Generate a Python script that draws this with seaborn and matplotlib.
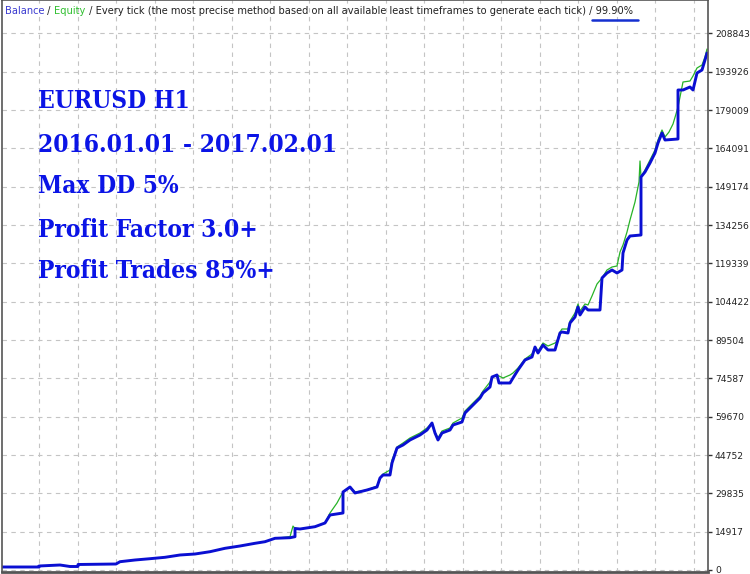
import numpy as np
import pandas as pd
import matplotlib
matplotlib.use("Agg")
import matplotlib.pyplot as plt
from matplotlib.lines import Line2D
import seaborn as sns


##### Data (trade no. / account value)

balance_trade = [0, 37, 37, 58, 68, 76, 76, 114, 118, 133, 148, 163, 178, 193, 208, 223, 238,
                 253, 263, 273, 288, 293, 293, 298, 313, 323, 328, 341, 341, 348, 353, 365,
                 375, 378, 381, 388, 390, 395, 401, 408, 418, 425, 430, 433, 436, 440, 448,
                 451, 460, 463, 471, 478, 481, 488, 490, 495, 497, 508, 511, 516, 523, 530,
                 533, 536, 541, 546, 553, 555, 558, 560, 566, 568, 573, 576, 578, 583, 586,
                 598, 600, 605, 610, 615, 620, 621, 625, 628, 639, 639, 643, 648, 653, 656,
                 660, 663, 676, 676, 681, 688, 691, 695, 700, 703, 705]
balance_value = [1168, 1168, 1557, 1946, 1362, 1362, 2141, 2335, 3230, 3892, 4398, 4943, 5838,
                 6227, 7122, 8446, 9341, 10392, 11014, 12338, 12571, 12960, 16152, 15957,
                 16852, 18292, 21406, 22184, 30358, 32304, 29968, 31136, 32304, 35806, 36974,
                 36974, 41644, 47482, 48650, 50596, 52542, 54488, 57212, 53320, 50596, 53320,
                 54488, 56434, 57602, 61104, 64218, 66942, 68888, 71224, 75116, 75894, 72780,
                 72780, 74726, 77840, 81732, 82900, 86792, 84456, 87570, 85624, 85624, 88348,
                 92240, 92630, 92240, 96132, 98468, 102360, 99246, 102360, 101192, 101192,
                 113646, 115592, 116760, 115592, 116760, 123376, 128436, 129993, 130382,
                 152956, 154902, 158404, 162296, 166188, 170080, 167356, 167745, 186816,
                 186816, 187984, 186816, 193432, 194600, 198492, 201216]

equity_trade = [0, 37, 37, 58, 68, 76, 76, 114, 118, 133, 148, 163, 178, 193, 208, 223, 238,
                253, 263, 273, 288, 291, 293, 298, 313, 323, 328, 335, 341, 348, 353, 365,
                375, 378, 381, 388, 390, 395, 401, 408, 418, 425, 430, 433, 436, 440, 448,
                451, 460, 463, 471, 478, 481, 488, 490, 495, 501, 508, 511, 516, 523, 530,
                533, 536, 541, 546, 553, 555, 558, 560, 566, 568, 573, 576, 578, 583, 586,
                590, 595, 600, 605, 610, 615, 618, 621, 625, 628, 633, 637, 638, 639, 643,
                648, 653, 656, 660, 663, 667, 671, 674, 676, 681, 688, 691, 695, 700, 703, 705]
equity_value = [1168, 1168, 1557, 1946, 1362, 1362, 2141, 2335, 3230, 3892, 4398, 4943, 5838,
                6227, 7122, 8446, 9341, 10392, 11014, 12338, 12960, 17100, 16152, 15957,
                16852, 18292, 22184, 26076, 30358, 32304, 30358, 31136, 32693, 35806, 37363,
                38920, 42811, 47870, 49428, 51374, 53320, 55266, 57212, 53709, 51374, 54098,
                55266, 57212, 59158, 61882, 64996, 67720, 69666, 73170, 75116, 75894, 74726,
                75894, 76672, 78618, 82122, 84068, 86792, 85234, 88348, 87180, 88348, 89126,
                92630, 93797, 93797, 96910, 100024, 103527, 100803, 103527, 103138, 106640,
                111311, 113646, 116760, 117928, 118317, 123766, 126490, 131550, 136220,
                143226, 151010, 159183, 152956, 155680, 159572, 163463, 167356, 171247,
                168524, 170470, 173583, 177476, 180200, 189929, 190318, 192264, 195378,
                196546, 199659, 202772]

ytick_values = [0, 14917, 29835, 44752, 59670, 74587, 89504, 104422, 119339, 134256,
                149174, 164091, 179009, 193926, 208843]
ytick_labels = [str(v) for v in ytick_values]

header_parts = ["Balance", " / ", "Equity",
                " / Every tick (the most precise method based on all available least "
                "timeframes to generate each tick) / 99.90%"]
header_colors = ["#3a3ad0", "#222222", "#2fbf2f", "#222222"]

info_lines = ["EURUSD H1", "2016.01.01 - 2017.02.01", "Max DD 5%",
              "Profit Factor 3.0+", "Profit Trades 85%+"]


##### PLOT

sns.set_style("white")
fig = plt.figure(figsize=(7.5, 5.74), dpi=100)
W, H = 750, 574
ax = fig.add_axes([2 / W, 2.5 / H, 706 / W, 571.5 / H])

bal = pd.DataFrame({"trade": balance_trade, "value": balance_value})
eq = pd.DataFrame({"trade": equity_trade, "value": equity_value})

sns.lineplot(data=eq, x="trade", y="value", estimator=None, sort=False,
             color="#27b327", lw=0.9, ax=ax)
sns.lineplot(data=bal, x="trade", y="value", estimator=None, sort=False,
             color="#0a0fd2", lw=2.1, ax=ax)

ax.set_xlim(0, 706)
ax.set_ylim(-584, 221844)
ax.set_xlabel("")
ax.set_ylabel("")

ax.yaxis.tick_right()
ax.set_yticks(ytick_values, ytick_labels)
ax.set_xticks(np.arange(37, 700, 38.5))
ax.tick_params(axis="x", length=0, labelbottom=False)
ax.tick_params(axis="y", direction="out", length=3, width=1, color="#333333",
               labelsize=6.6, pad=2, labelcolor="#222222")
ax.grid(True, color="#c4c4c4", ls=(0, (4, 4)), lw=0.8)

for side in ["left", "right", "top"]:
    ax.spines[side].set_visible(True)
    ax.spines[side].set_color("#555555")
    ax.spines[side].set_linewidth(1.2)
ax.spines["bottom"].set_color("#555555")
ax.spines["bottom"].set_linewidth(2)

# header line, coloured piece by piece
renderer = fig.canvas.get_renderer()
x = 5
for part, col in zip(header_parts, header_colors):
    t = fig.text(x / W, 1 - 14 / H, part, color=col, fontsize=7.15,
                 family="DejaVu Sans", va="baseline")
    x = t.get_window_extent(renderer).x1

# underline under the modelling quality
fig.add_artist(Line2D([592 / W, 638 / W], [1 - 20 / H, 1 - 20 / H],
                      color="#1530d0", lw=1.8, solid_capstyle="round"))

# big blue notes
baselines = [108, 152, 193, 237, 278]
for line, yb in zip(info_lines, baselines):
    fig.text(38 / W, 1 - yb / H, line, color="#0b14e6", fontsize=17.6,
             family="DejaVu Serif", weight="bold", fontstretch="condensed",
             va="baseline")

fig.savefig("out.png", dpi=100)
